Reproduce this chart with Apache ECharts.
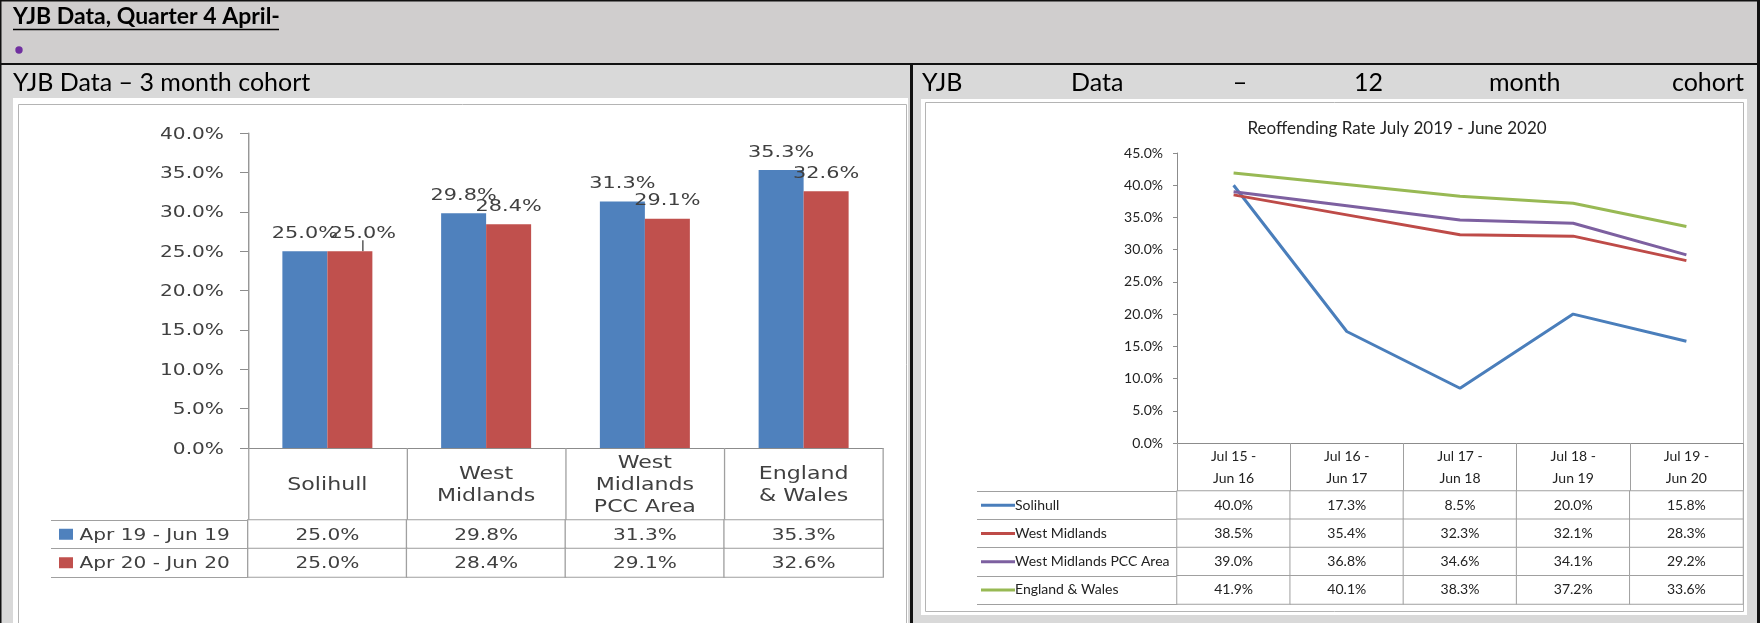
<!DOCTYPE html>
<html>
<head>
<meta charset="utf-8">
<script src="https://cdn.jsdelivr.net/npm/echarts@6/dist/echarts.min.js"></script>
<style>
  html, body { margin: 0; padding: 0; background: #d9d9d9; }
  #page { position: relative; width: 1760px; height: 623px; overflow: hidden; }
  #chart { position: absolute; left: 0; top: 0; width: 1760px; height: 623px; }
  /* the pasted 3-month chart is stretched sideways in the document */
  #cohort3 { position: absolute; left: 18px; top: 104px; height: 519px; transform-origin: 0 0; }
</style>
</head>
<body>
<div id="page">
  <div id="chart"></div>
  <div id="cohort3"></div>
</div>
<script>
// ---- 3 month cohort (bar chart) ----
const areaLabels = ['Solihull', 'West\nMidlands', 'West\nMidlands\nPCC Area', 'England\n& Wales'];
const periodNames = ['Apr 19 - Jun 19', 'Apr 20 - Jun 20'];
const apr19Jun19 = [25.0, 29.8, 31.3, 35.3];
const apr20Jun20 = [25.0, 28.4, 29.1, 32.6];

// ---- 12 month cohort (line chart) ----
const cohortLabels = ['Jul 15 -\nJun 16', 'Jul 16 -\nJun 17', 'Jul 17 -\nJun 18', 'Jul 18 -\nJun 19', 'Jul 19 -\nJun 20'];
const areaNames = ['Solihull', 'West Midlands', 'West Midlands PCC Area', 'England & Wales'];
const solihull = [40.0, 17.3, 8.5, 20.0, 15.8];
const westMidlands = [38.5, 35.4, 32.3, 32.1, 28.3];
const westMidlandsPcc = [39.0, 36.8, 34.6, 34.1, 29.2];
const englandWales = [41.9, 40.1, 38.3, 37.2, 33.6];

const barColors = ['#4f81bd', '#c0504d'];
const lineColors = ['#4a7ebb', '#be4b48', '#7d60a0', '#98b954'];
const lineSeriesValues = [solihull, westMidlands, westMidlandsPcc, englandWales];

const pct = v => Number(v).toFixed(1) + '%';
const VERDANA = 'DejaVu Sans';
const CALIBRI = 'Lato';
const GRID_LINE = '#a0a0a0';
const AXIS_LINE = '#8c8c8c';
const TXT = '#404040';

// table cell data [column, row, value]
function tableCells(rows) {
  const out = [];
  rows.forEach((vals, r) => vals.forEach((v, c) => out.push([c, r, v])));
  return out;
}

// ================= page frame + 12 month cohort =================
const chart = echarts.init(document.getElementById('chart'));

const bg = [];
function rect(x, y, w, h, fill, z) {
  bg.push({ type: 'rect', z: z == null ? -20 : z, silent: true, shape: { x, y, width: w, height: h }, style: { fill } });
}
function frame(x, y, w, h, stroke) {
  bg.push({ type: 'rect', z: -15, silent: true, shape: { x, y, width: w, height: h }, style: { fill: 'none', stroke, lineWidth: 1 } });
}
function text(x, y, str, font, align, fill) {
  bg.push({ type: 'text', z: 50, silent: true, x, y, style: { text: str, font, fill: fill || '#000', align: align || 'left', verticalAlign: 'middle' } });
}

rect(0, 0, 1760, 623, '#d9d9d9');
rect(0, 0, 1760, 64, '#d0cece', -19);
rect(13, 98, 895, 525, '#ffffff', -18);
rect(921, 99, 826, 516, '#ffffff', -18);
frame(18.5, 104.5, 888, 530, '#b4b4b4');
frame(925.5, 102.5, 818, 509, '#b4b4b4');
rect(0, 0, 1760, 1.5, '#111', -10);
rect(0, 0, 1.5, 623, '#111', -10);
rect(1757, 0, 3, 623, '#111', -10);
rect(0, 63, 1760, 2, '#111', -10);
rect(910, 64, 3, 559, '#111', -10);

text(13, 17, 'YJB Data, Quarter 4 April-', 'bold 23px Lato');
bg.push({ type: 'line', z: 50, silent: true, shape: { x1: 13, y1: 29.5, x2: 279, y2: 29.5 }, style: { stroke: '#000', lineWidth: 1.6 } });
bg.push({ type: 'circle', z: 50, silent: true, shape: { cx: 19, cy: 50, r: 3.7 }, style: { fill: '#7030a0' } });
text(13, 83, 'YJB Data \u2013 3 month cohort', '25px Lato');
// justified heading in the right cell
text(922, 83, 'YJB', '25px Lato');
text(1071, 83, 'Data', '25px Lato');
text(1240, 83, '\u2013', '25px Lato', 'center');
text(1354, 83, '12', '25px Lato');
text(1489, 83, 'month', '25px Lato');
text(1744, 83, 'cohort', '25px Lato', 'right');
text(1397, 129, 'Reoffending Rate July 2019 - June 2020', '17px Lato', 'center', '#222');

chart.setOption({
  animation: false,
  graphic: { elements: bg },
  grid: [
    { left: 1177, top: 153, width: 566, height: 290 },  // lines
    { left: 1177, top: 491, width: 566, height: 113 }   // data table
  ],
  xAxis: [
    {
      gridIndex: 0, type: 'category', data: cohortLabels,
      axisLine: { lineStyle: { color: AXIS_LINE } },
      axisTick: { show: true, length: 48, interval: 0, lineStyle: { color: GRID_LINE } },
      axisLabel: { interval: 0, margin: 24, verticalAlign: 'middle', lineHeight: 22, fontFamily: CALIBRI, fontSize: 14, color: '#222' }
    },
    { gridIndex: 1, type: 'category', data: cohortLabels, show: false }
  ],
  yAxis: [
    {
      gridIndex: 0, type: 'value', min: 0, max: 45, interval: 5,
      axisLine: { show: true, lineStyle: { color: AXIS_LINE } },
      axisTick: { show: true, length: 4, lineStyle: { color: AXIS_LINE } },
      splitLine: { show: false },
      axisLabel: { formatter: pct, margin: 14, fontFamily: CALIBRI, fontSize: 14, color: '#222' }
    },
    {
      gridIndex: 1, type: 'category', data: areaNames, inverse: true,
      axisLine: { show: true, lineStyle: { color: GRID_LINE } },
      axisTick: { show: true, length: 200, lineStyle: { color: GRID_LINE } },
      axisLabel: {
        align: 'left', margin: 196, fontFamily: CALIBRI, fontSize: 14, color: '#222',
        formatter: (v, i) => '{k' + i + '|}' + v,
        rich: {
          k0: { backgroundColor: lineColors[0], width: 34, height: 3 },
          k1: { backgroundColor: lineColors[1], width: 34, height: 3 },
          k2: { backgroundColor: lineColors[2], width: 34, height: 3 },
          k3: { backgroundColor: lineColors[3], width: 34, height: 3 }
        }
      }
    },
    {
      // left border of the row-header column
      gridIndex: 1, type: 'category', data: areaNames, inverse: true, offset: 200,
      axisLine: { show: true, lineStyle: { color: GRID_LINE } },
      axisTick: { show: false }, axisLabel: { show: false }
    }
  ],
  visualMap: { show: false, seriesIndex: 4, min: 0, max: 100, inRange: { color: ['#ffffff', '#ffffff'] } },
  series: [
    ...lineSeriesValues.map((vals, i) => ({
      name: areaNames[i], type: 'line', xAxisIndex: 0, yAxisIndex: 0,
      data: vals, symbol: 'none', smooth: false,
      lineStyle: { color: lineColors[i], width: 3 },
      itemStyle: { color: lineColors[i] }
    })),
    {
      type: 'heatmap', xAxisIndex: 1, yAxisIndex: 1,
      data: tableCells(lineSeriesValues),
      itemStyle: { color: '#ffffff', borderColor: GRID_LINE, borderWidth: 1 },
      label: { show: true, formatter: p => pct(p.value[2]), fontFamily: CALIBRI, fontSize: 14, color: '#222' },
      emphasis: { disabled: true }
    }
  ]
});

// ================= 3 month cohort =================
// drawn in a box 888px wide on the page; its content is stretched by K
const K = 1.3;
const boxEl = document.getElementById('cohort3');
boxEl.style.width = (888 / K) + 'px';
boxEl.style.transform = 'scaleX(' + K + ')';
const sx = px => px / K;   // page pixels -> stretched-chart pixels

// when both periods share a value, the second label is moved aside with a guide line
const apr20Data = apr20Jun20.map((v, i) =>
  v === apr19Jun19[i] ? { value: v, labelLine: { show: true } } : v);

const bars = echarts.init(boxEl, null, { renderer: 'svg' });
bars.setOption({
  animation: false,
  grid: [
    { left: sx(230), top: 29, width: sx(635), height: 315 },  // bars
    { left: sx(230), top: 416, width: sx(635), height: 57 }   // data table
  ],
  xAxis: [
    {
      gridIndex: 0, type: 'category', data: areaLabels,
      axisLine: { lineStyle: { color: AXIS_LINE } },
      axisTick: { show: true, length: 72, interval: 0, lineStyle: { color: GRID_LINE } },
      axisLabel: { interval: 0, margin: 36, verticalAlign: 'middle', lineHeight: 22, fontFamily: VERDANA, fontSize: 17, color: TXT }
    },
    { gridIndex: 1, type: 'category', data: areaLabels, show: false }
  ],
  yAxis: [
    {
      gridIndex: 0, type: 'value', min: 0, max: 40, interval: 5,
      axisLine: { show: true, lineStyle: { color: AXIS_LINE } },
      axisTick: { show: true, length: sx(8), lineStyle: { color: AXIS_LINE } },
      splitLine: { show: false },
      axisLabel: { formatter: pct, margin: sx(24), fontFamily: VERDANA, fontSize: 15.5, color: TXT }
    },
    {
      gridIndex: 1, type: 'category', data: periodNames, inverse: true,
      axisLine: { show: true, lineStyle: { color: GRID_LINE } },
      axisTick: { show: true, length: sx(197), lineStyle: { color: GRID_LINE } },
      axisLabel: {
        align: 'left', margin: sx(189), fontFamily: VERDANA, fontSize: 15.5, color: TXT,
        formatter: (v, i) => '{k' + i + '|} ' + v,
        rich: {
          k0: { backgroundColor: barColors[0], width: sx(14), height: 11 },
          k1: { backgroundColor: barColors[1], width: sx(14), height: 11 }
        }
      }
    },
    {
      gridIndex: 1, type: 'category', data: periodNames, inverse: true, offset: sx(197),
      axisLine: { show: true, lineStyle: { color: GRID_LINE } },
      axisTick: { show: false }, axisLabel: { show: false }
    }
  ],
  visualMap: { show: false, seriesIndex: 2, min: 0, max: 100, inRange: { color: ['#ffffff', '#ffffff'] } },
  series: [
    {
      name: periodNames[0], type: 'bar', xAxisIndex: 0, yAxisIndex: 0,
      data: apr19Jun19, barWidth: sx(45), barGap: '0%',
      itemStyle: { color: barColors[0] },
      label: { show: true, position: 'top', distance: 11, formatter: p => pct(p.value), fontFamily: VERDANA, fontSize: 16, color: TXT }
    },
    {
      name: periodNames[1], type: 'bar', xAxisIndex: 0, yAxisIndex: 0,
      data: apr20Data, barWidth: sx(45), barGap: '0%',
      itemStyle: { color: barColors[1] },
      label: { show: true, position: 'top', distance: 11, formatter: p => pct(p.value), fontFamily: VERDANA, fontSize: 16, color: TXT },
      labelLayout: p => (apr20Jun20[p.dataIndex] === apr19Jun19[p.dataIndex] ? { dx: sx(13) } : {}),
      labelLine: { show: false, lineStyle: { color: '#404040', width: 1 } }
    },
    {
      type: 'heatmap', xAxisIndex: 1, yAxisIndex: 1,
      data: tableCells([apr19Jun19, apr20Jun20]),
      itemStyle: { color: '#ffffff', borderColor: GRID_LINE, borderWidth: 1 },
      label: { show: true, formatter: p => pct(p.value[2]), fontFamily: VERDANA, fontSize: 15.5, color: TXT },
      emphasis: { disabled: true }
    }
  ]
});
</script>
</body>
</html>
